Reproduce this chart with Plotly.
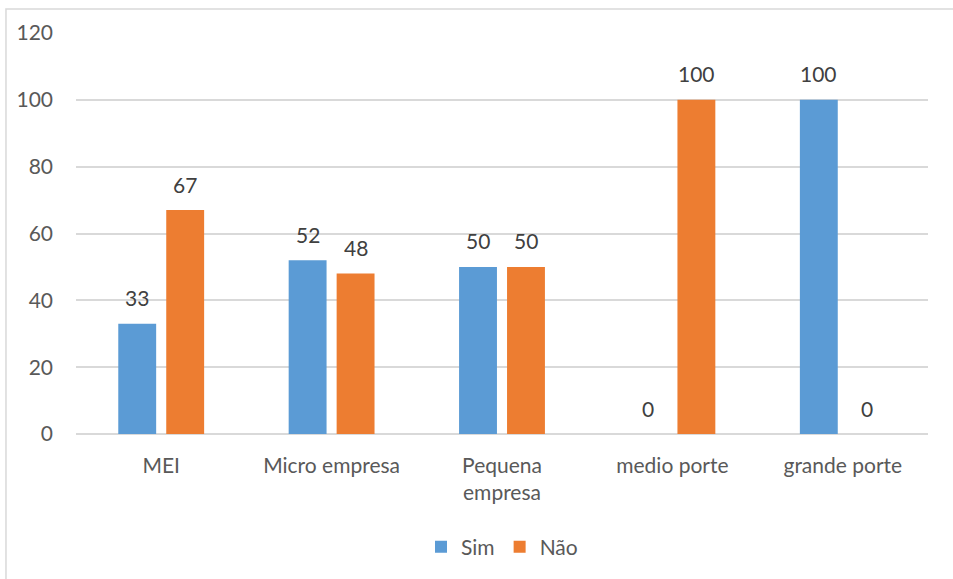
import plotly.graph_objects as go

categories = ["MEI", "Micro empresa", "Pequena<br>empresa", "medio porte", "grande porte"]
sim = [33, 52, 50, 0, 100]
nao = [67, 48, 50, 100, 0]
y_ticks = [0, 20, 40, 60, 80, 100, 120]

FONT = "Lato, 'Open Sans', sans-serif"
TXT = "#595959"
GRID = "#D9D9D9"
SIZE = 21

series = [("Sim", sim, "#5B9BD5", -24), ("Não", nao, "#ED7D31", 24)]

fig = go.Figure()
for name, values, color, _ in series:
    fig.add_trace(
        go.Bar(
            name=name,
            x=categories,
            y=values,
            marker=dict(color=color, line=dict(width=0)),
        )
    )

# value labels above each bar
for name, values, color, dx in series:
    for cat, v in zip(categories, values):
        fig.add_annotation(
            x=cat,
            y=v,
            xref="x",
            yref="y",
            text=str(v),
            showarrow=False,
            xshift=dx,
            yshift=26,
            yanchor="middle",
            font=dict(family=FONT, size=SIZE, color="#404040"),
        )

fig.update_layout(
    width=953,
    height=579,
    margin=dict(l=76, r=25, t=33, b=144),
    paper_bgcolor="white",
    plot_bgcolor="white",
    barmode="group",
    bargap=0.437,
    bargroupgap=0.21,
    font=dict(family=FONT, size=SIZE, color=TXT),
    showlegend=True,
    legend=dict(
        orientation="h",
        x=0.5,
        xanchor="center",
        y=-0.279,
        yanchor="middle",
        font=dict(family=FONT, size=SIZE, color=TXT),
        itemwidth=30,
        traceorder="normal",
    ),
)

fig.update_xaxes(
    showgrid=False,
    showline=False,
    ticks="",
    ticklabelstandoff=17,
    tickfont=dict(family=FONT, size=SIZE, color=TXT),
)

fig.update_yaxes(
    range=[0, 120],
    tickvals=y_ticks,
    showgrid=True,
    gridcolor=GRID,
    gridwidth=1.5,
    zeroline=True,
    zerolinecolor=GRID,
    zerolinewidth=1.5,
    showline=False,
    ticks="",
    ticklabelstandoff=22,
    tickfont=dict(family=FONT, size=SIZE, color=TXT),
)

# chart frame
fig.add_shape(
    type="rect",
    xref="paper",
    yref="paper",
    x0=-0.0822,
    x1=1.05,
    y0=-0.4,
    y1=1.0597,
    line=dict(color=GRID, width=1.5),
    fillcolor="rgba(0,0,0,0)",
    layer="below",
)

fig.write_html("out.html")
